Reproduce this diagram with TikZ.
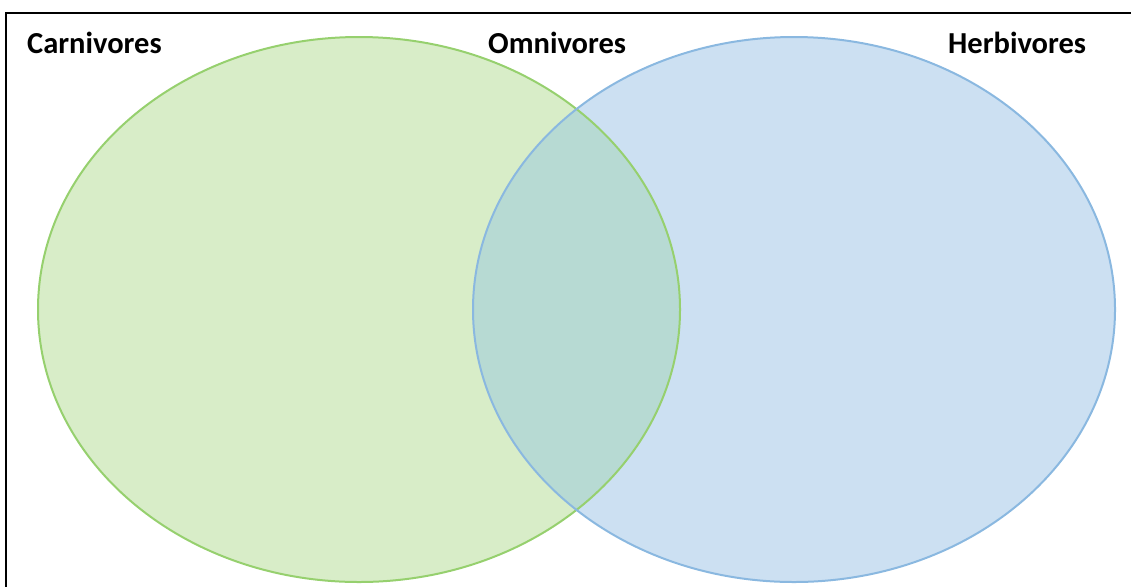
\documentclass[tikz,border=0pt]{standalone}
\usepackage{fontspec}
\setmainfont{Carlito}
\definecolor{gfill}{RGB}{216,237,200}
\definecolor{gline}{RGB}{150,208,110}
\definecolor{bfill}{RGB}{204,224,242}
\definecolor{bline}{RGB}{138,184,224}
\definecolor{ofill}{RGB}{183,218,211}
\tikzset{
  lbl/.style={font=\fontsize{30.5}{36}\selectfont\bfseries, anchor=base west, inner sep=0pt},
  frameline/.style={line width=2.5pt, black},
  setline/.style={line width=2pt}
}
\begin{document}
\begin{tikzpicture}[x=1pt,y=-1pt]
\useasboundingbox (0,0) rectangle (1131,587);
% fills
\fill[gfill] (359,309.5) ellipse [x radius=321, y radius=272.5];
\fill[bfill] (794,309.5) ellipse [x radius=321, y radius=272.5];
\begin{scope}
  \clip (359,309.5) ellipse [x radius=321, y radius=272.5];
  \fill[ofill] (794,309.5) ellipse [x radius=321, y radius=272.5];
\end{scope}
% outlines
\draw[setline, gline] (359,309.5) ellipse [x radius=321, y radius=272.5];
\draw[setline, bline] (794,309.5) ellipse [x radius=321, y radius=272.5];
% frame
\coordinate (tl) at (6,13);
\coordinate (tr) at (1131,13);
\coordinate (bl) at (6,587);
\draw[frameline] (tr) -- (tl) -- (bl);
% labels
\node[lbl] (carn) at (27,53) {Carnivores};
\node[lbl] (omni) at (488,53) {Omnivores};
\node[lbl] (herb) at (948,53) {Herbivores};
\end{tikzpicture}
\end{document}
